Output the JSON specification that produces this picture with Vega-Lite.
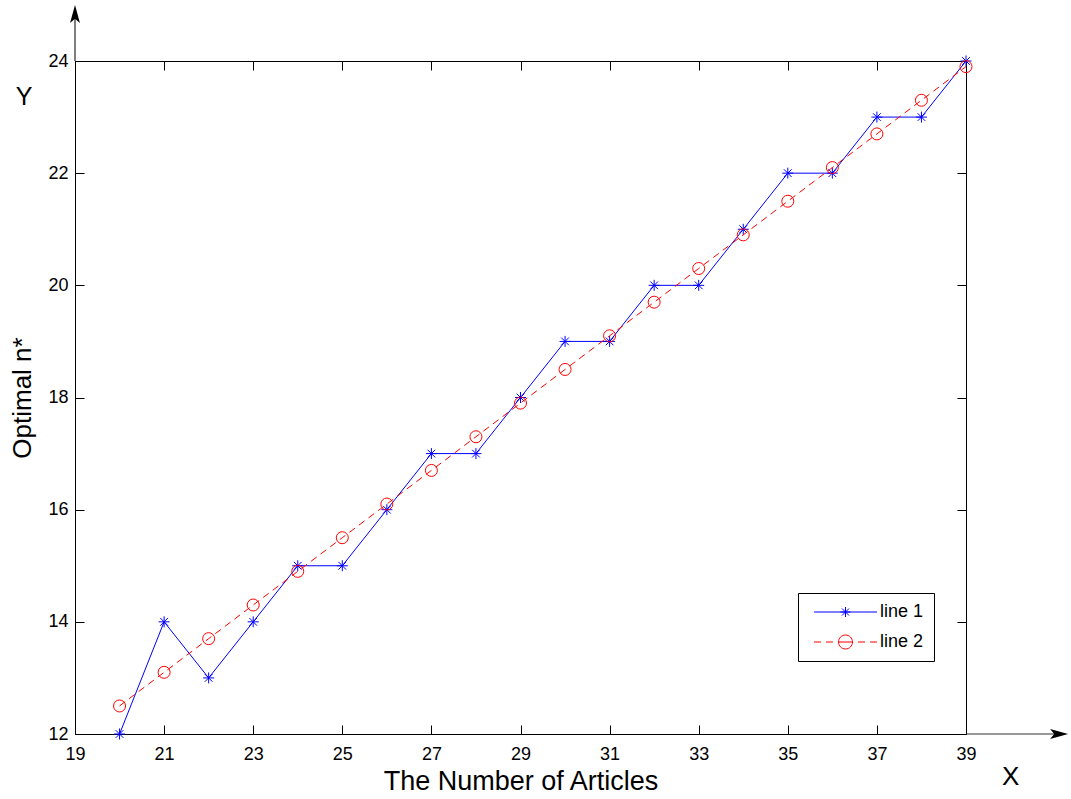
{
  "$schema": "https://vega.github.io/schema/vega-lite/v6.json",
  "width": 891,
  "height": 673,
  "autosize": {"type": "none"},
  "padding": {"left": 75, "top": 61, "right": 105, "bottom": 65},
  "background": "white",
  "config": {
    "view": {"stroke": "black", "strokeWidth": 1},
    "font": "Liberation Sans",
    "axis": {
      "domainColor": "black",
      "tickColor": "black",
      "labelColor": "black",
      "titleColor": "black",
      "grid": false,
      "labelFont": "Liberation Sans",
      "titleFont": "Liberation Sans",
      "labelFontSize": 18,
      "titleFontWeight": "normal",
      "tickSize": -9,
      "domainWidth": 1,
      "tickWidth": 1,
      "labelFlush": false,
      "labelOverlap": false
    }
  },
  "datasets": {
    "series": [
      {"x": 20, "y": 12, "series": "line 1"},
      {"x": 21, "y": 14, "series": "line 1"},
      {"x": 22, "y": 13, "series": "line 1"},
      {"x": 23, "y": 14, "series": "line 1"},
      {"x": 24, "y": 15, "series": "line 1"},
      {"x": 25, "y": 15, "series": "line 1"},
      {"x": 26, "y": 16, "series": "line 1"},
      {"x": 27, "y": 17, "series": "line 1"},
      {"x": 28, "y": 17, "series": "line 1"},
      {"x": 29, "y": 18, "series": "line 1"},
      {"x": 30, "y": 19, "series": "line 1"},
      {"x": 31, "y": 19, "series": "line 1"},
      {"x": 32, "y": 20, "series": "line 1"},
      {"x": 33, "y": 20, "series": "line 1"},
      {"x": 34, "y": 21, "series": "line 1"},
      {"x": 35, "y": 22, "series": "line 1"},
      {"x": 36, "y": 22, "series": "line 1"},
      {"x": 37, "y": 23, "series": "line 1"},
      {"x": 38, "y": 23, "series": "line 1"},
      {"x": 39, "y": 24, "series": "line 1"},
      {"x": 20, "y": 12.5, "series": "line 2"},
      {"x": 21, "y": 13.1, "series": "line 2"},
      {"x": 22, "y": 13.7, "series": "line 2"},
      {"x": 23, "y": 14.3, "series": "line 2"},
      {"x": 24, "y": 14.9, "series": "line 2"},
      {"x": 25, "y": 15.5, "series": "line 2"},
      {"x": 26, "y": 16.1, "series": "line 2"},
      {"x": 27, "y": 16.7, "series": "line 2"},
      {"x": 28, "y": 17.3, "series": "line 2"},
      {"x": 29, "y": 17.9, "series": "line 2"},
      {"x": 30, "y": 18.5, "series": "line 2"},
      {"x": 31, "y": 19.1, "series": "line 2"},
      {"x": 32, "y": 19.7, "series": "line 2"},
      {"x": 33, "y": 20.3, "series": "line 2"},
      {"x": 34, "y": 20.9, "series": "line 2"},
      {"x": 35, "y": 21.5, "series": "line 2"},
      {"x": 36, "y": 22.1, "series": "line 2"},
      {"x": 37, "y": 22.7, "series": "line 2"},
      {"x": 38, "y": 23.3, "series": "line 2"},
      {"x": 39, "y": 23.9, "series": "line 2"}
    ],
    "one": [{"note": "annotation"}]
  },
  "data": {"name": "series"},
  "resolve": {"axis": {"x": "independent", "y": "independent"}},
  "layer": [
    {
      "transform": [{"filter": "datum.series === 'line 1'"}],
      "mark": {"type": "line", "color": "#0000FF", "strokeWidth": 1, "clip": false},
      "encoding": {
        "x": {
          "field": "x", "type": "quantitative",
          "scale": {"domain": [19, 39], "nice": false, "zero": false},
          "axis": {
            "orient": "bottom",
            "values": [19, 21, 23, 25, 27, 29, 31, 33, 35, 37, 39],
            "title": "The Number of Articles",
            "titleFontSize": 27,
            "titleFontWeight": "normal",
            "labelFontSize": 18,
            "labelPadding": 20,
            "titlePadding": 5,
            "labelAngle": 0
          }
        },
        "y": {
          "field": "y", "type": "quantitative",
          "scale": {"domain": [12, 24], "nice": false, "zero": false},
          "axis": {
            "orient": "left",
            "values": [12, 14, 16, 18, 20, 22, 24],
            "title": "Optimal n*",
            "titleFontSize": 26,
            "titleFontWeight": "normal",
            "labelFontSize": 18,
            "labelPadding": 16,
            "titlePadding": 12
          }
        }
      }
    },
    {
      "transform": [{"filter": "datum.series === 'line 1'"}],
      "mark": {
        "type": "point", "filled": false, "opacity": 1, "clip": false,
        "color": "#0000FF", "strokeWidth": 1, "size": 121,
        "shape": "M-1,0L1,0M0,-1L0,1M-0.7,-0.7L0.7,0.7M-0.7,0.7L0.7,-0.7"
      },
      "encoding": {
        "x": {"field": "x", "type": "quantitative", "scale": {"domain": [19, 39], "nice": false, "zero": false}, "axis": null},
        "y": {"field": "y", "type": "quantitative", "scale": {"domain": [12, 24], "nice": false, "zero": false}, "axis": null}
      }
    },
    {
      "transform": [{"filter": "datum.series === 'line 2'"}],
      "mark": {"type": "line", "color": "#FF0000", "strokeWidth": 1, "strokeDash": [7, 5], "clip": false},
      "encoding": {
        "x": {
          "field": "x", "type": "quantitative",
          "scale": {"domain": [19, 39], "nice": false, "zero": false},
          "axis": {"orient": "top", "values": [19, 21, 23, 25, 27, 29, 31, 33, 35, 37, 39], "labels": false, "title": null}
        },
        "y": {
          "field": "y", "type": "quantitative",
          "scale": {"domain": [12, 24], "nice": false, "zero": false},
          "axis": {"orient": "right", "values": [12, 14, 16, 18, 20, 22, 24], "labels": false, "title": null}
        }
      }
    },
    {
      "transform": [{"filter": "datum.series === 'line 2'"}],
      "mark": {"type": "point", "shape": "circle", "filled": false, "opacity": 1, "clip": false, "color": "#FF0000", "strokeWidth": 1, "size": 144},
      "encoding": {
        "x": {"field": "x", "type": "quantitative", "scale": {"domain": [19, 39], "nice": false, "zero": false}, "axis": null},
        "y": {"field": "y", "type": "quantitative", "scale": {"domain": [12, 24], "nice": false, "zero": false}, "axis": null}
      }
    },
    {
      "transform": [{"filter": "false"}],
      "mark": {"type": "point", "filled": false, "opacity": 1, "size": 100, "strokeWidth": 1},
      "encoding": {
        "x": {"field": "x", "type": "quantitative", "scale": {"domain": [19, 39], "nice": false, "zero": false}, "axis": null},
        "y": {"field": "y", "type": "quantitative", "scale": {"domain": [12, 24], "nice": false, "zero": false}, "axis": null},
        "color": {
          "field": "series", "type": "nominal",
          "scale": {"domain": ["line 1", "line 2"], "range": ["#0000FF", "#FF0000"]},
          "legend": {
            "title": null, "orient": "none", "legendX": 723, "legendY": 532,
            "strokeColor": "black", "fillColor": "white", "padding": 10, "rowPadding": 12,
            "labelFont": "Liberation Sans", "labelFontSize": 18, "labelColor": "black",
            "labelOffset": 54, "symbolSize": 100, "symbolStrokeWidth": 1
          }
        },
        "shape": {
          "field": "series", "type": "nominal",
          "scale": {
            "domain": ["line 1", "line 2"],
            "range": [
              "M-0.6,0L12,0M4.7,0L6.7,0M5.7,-1L5.7,1M5,-0.7L6.4,0.7M5,0.7L6.4,-0.7",
              "M-0.6,0L0.8,0M1.8,0L3.2,0M4.2,0L7.2,0M8.2,0L9.6,0M10.6,0L12,0M7.1,0A1.4,1.4,0,1,1,4.3,0A1.4,1.4,0,1,1,7.1,0"
            ]
          },
          "legend": {
            "title": null, "orient": "none", "legendX": 723, "legendY": 532,
            "strokeColor": "black", "fillColor": "white", "padding": 10, "rowPadding": 12,
            "labelFont": "Liberation Sans", "labelFontSize": 18, "labelColor": "black",
            "labelOffset": 54, "symbolSize": 100, "symbolStrokeWidth": 1
          }
        }
      }
    },
    {
      "data": {"name": "one"},
      "mark": {"type": "rule", "color": "#333333", "strokeWidth": 1.2, "clip": false},
      "encoding": {
        "x": {"datum": 39, "type": "quantitative", "scale": {"domain": [19, 39], "nice": false, "zero": false}, "axis": null},
        "x2": {"datum": 41.1},
        "y": {"datum": 12, "type": "quantitative", "scale": {"domain": [12, 24], "nice": false, "zero": false}, "axis": null}
      }
    },
    {
      "data": {"name": "one"},
      "mark": {"type": "point", "filled": true, "opacity": 1, "clip": false, "color": "black", "size": 324, "shape": "M1,0L-1,-0.55L-0.55,0L-1,0.55Z"},
      "encoding": {
        "x": {"datum": 41.09, "type": "quantitative", "scale": {"domain": [19, 39], "nice": false, "zero": false}, "axis": null},
        "y": {"datum": 12, "type": "quantitative", "scale": {"domain": [12, 24], "nice": false, "zero": false}, "axis": null}
      }
    },
    {
      "data": {"name": "one"},
      "mark": {"type": "rule", "color": "#555555", "strokeWidth": 1.5, "clip": false},
      "encoding": {
        "x": {"datum": 19, "type": "quantitative", "scale": {"domain": [19, 39], "nice": false, "zero": false}, "axis": null},
        "y": {"datum": 24, "type": "quantitative", "scale": {"domain": [12, 24], "nice": false, "zero": false}, "axis": null},
        "y2": {"datum": 24.8}
      }
    },
    {
      "data": {"name": "one"},
      "mark": {"type": "point", "filled": true, "opacity": 1, "clip": false, "color": "black", "size": 324, "shape": "M0,-1L-0.55,1L0,0.55L0.55,1Z"},
      "encoding": {
        "x": {"datum": 19, "type": "quantitative", "scale": {"domain": [19, 39], "nice": false, "zero": false}, "axis": null},
        "y": {"datum": 24.84, "type": "quantitative", "scale": {"domain": [12, 24], "nice": false, "zero": false}, "axis": null}
      }
    },
    {
      "data": {"name": "one"},
      "mark": {"type": "text", "text": "Y", "font": "Liberation Sans", "fontSize": 25, "fontWeight": "normal", "fill": "black", "align": "center", "baseline": "middle", "clip": false},
      "encoding": {
        "x": {"datum": 17.855, "type": "quantitative", "scale": {"domain": [19, 39], "nice": false, "zero": false}, "axis": null},
        "y": {"datum": 23.36, "type": "quantitative", "scale": {"domain": [12, 24], "nice": false, "zero": false}, "axis": null}
      }
    },
    {
      "data": {"name": "one"},
      "mark": {"type": "text", "text": "X", "font": "Liberation Sans", "fontSize": 26, "fontWeight": "normal", "fill": "black", "align": "center", "baseline": "middle", "clip": false},
      "encoding": {
        "x": {"datum": 40.0, "type": "quantitative", "scale": {"domain": [19, 39], "nice": false, "zero": false}, "axis": null},
        "y": {"datum": 11.23, "type": "quantitative", "scale": {"domain": [12, 24], "nice": false, "zero": false}, "axis": null}
      }
    }
  ]
}
